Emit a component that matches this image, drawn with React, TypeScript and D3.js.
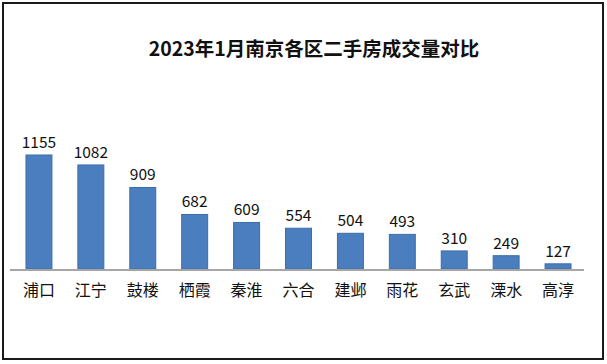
import React from "react";
import * as d3 from "d3";

const title = "2023年1月南京各区二手房成交量对比";
const districts = ["浦口", "江宁", "鼓楼", "栖霞", "秦淮", "六合", "建邺", "雨花", "玄武", "溧水", "高淳"];
const volumes = [1155, 1082, 909, 682, 609, 554, 504, 493, 310, 249, 127];

const W = 607;
const H = 364;
const FONT = "'Noto Sans CJK SC', 'Noto Sans', sans-serif";

export default function App() {
  const x = d3
    .scaleBand<string>()
    .domain(districts)
    .range([13, 584])
    .paddingInner(0.5)
    .paddingOuter(0.25);
  const y = d3
    .scalePow()
    .exponent(1.4)
    .domain([0, d3.max(volumes) as number])
    .range([269, 155]);

  return (
    <svg
      width={W}
      height={H}
      style={{ position: "absolute", left: 0, top: 0, background: "#fff" }}
    >
      <rect x={0} y={0} width={W} height={H} fill="#fff" />
      <rect x={3} y={3} width={600} height={356} fill="none" stroke="#1a1a1a" strokeWidth={2} />
      <text
        x={314}
        y={47}
        textAnchor="middle"
        dominantBaseline="central"
        fontFamily={FONT}
        fontSize={19.5}
        fontWeight={600}
        fill="#111"
      >
        {title}
      </text>
      {districts.map((d, i) => (
        <rect
          key={d}
          x={x(d)}
          y={y(volumes[i])}
          width={x.bandwidth()}
          height={269 - y(volumes[i])}
          fill="#4A7EBE"
          stroke="#3D6DA8"
          strokeWidth={1}
        />
      ))}
      <line x1={10} x2={584} y1={270} y2={270} stroke="#a6a6a6" strokeWidth={2} />
      {districts.map((d, i) => (
        <text
          key={"v" + d}
          x={(x(d) as number) + x.bandwidth() / 2}
          y={y(volumes[i]) - 7}
          textAnchor="middle"
          fontFamily={FONT}
          fontSize={15.5}
          fill="#111"
        >
          {volumes[i]}
        </text>
      ))}
      {districts.map((d) => (
        <text
          key={"c" + d}
          x={(x(d) as number) + x.bandwidth() / 2}
          y={289}
          textAnchor="middle"
          dominantBaseline="central"
          fontFamily={FONT}
          fontSize={16}
          fill="#111"
        >
          {d}
        </text>
      ))}
    </svg>
  );
}
